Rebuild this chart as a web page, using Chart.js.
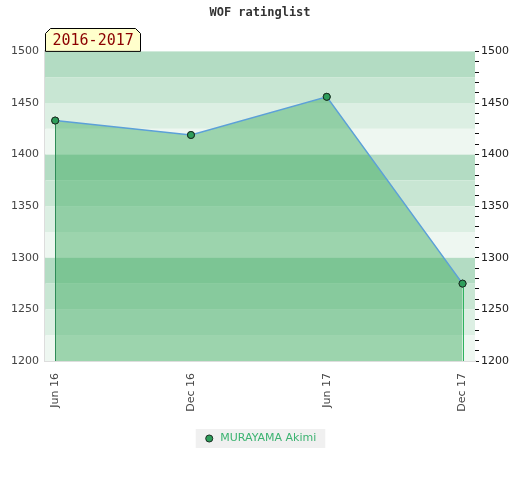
<!DOCTYPE html>
<html>
<head>
<meta charset="utf-8">
<script src="https://cdn.jsdelivr.net/npm/chart.js@4/dist/chart.umd.min.js"></script>
<style>
  body { margin: 0; background: #fff; }
  #wrap { width: 520px; height: 480px; }
</style>
</head>
<body>
<div id="wrap"><canvas id="chart"></canvas></div>
<script>
// months since Jun 2016
const months = [0, 6, 12, 18];
const tickLabels = ['Jun 16', 'Dec 16', 'Jun 17', 'Dec 17'];
const ratings = [1433, 1419, 1456, 1275];
const playerName = 'MURAYAMA Akimi';
const periodLabel = '2016-2017';

const bandColors = ['#b3dcc3', '#c8e6d3', '#dcefe3', '#eef7f1'];

const bandsPlugin = {
    id: 'bands',
    beforeDatasetsDraw(chart) {
        const { ctx, chartArea } = chart;
        const y = chart.scales.y;
        ctx.save();
        let k = 0;
        for (let v = y.max; v > y.min; v -= 25) {
            const top = y.getPixelForValue(v);
            const bottom = y.getPixelForValue(v - 25);
            ctx.fillStyle = bandColors[k % 4];
            ctx.fillRect(chartArea.left, top, chartArea.right - chartArea.left, bottom - top);
            k++;
        }
        ctx.restore();
    },
    afterDatasetsDraw(chart) {
        // vertical edges of the filled area
        const { ctx, chartArea } = chart;
        const pts = chart.getDatasetMeta(0).data;
        const edges = [[pts[0], '#2e8b57'], [pts[pts.length - 1], '#2fb35f']];
        ctx.save();
        ctx.lineWidth = 1;
        edges.forEach(([p, color]) => {
            const x = Math.round(p.x) + 0.5;
            ctx.strokeStyle = color;
            ctx.beginPath();
            ctx.moveTo(x, p.y);
            ctx.lineTo(x, chartArea.bottom);
            ctx.stroke();
        });
        // redraw points on top of the edges
        pts.forEach((p) => p.draw(ctx, chartArea));
        ctx.restore();
    },
};

const periodPlugin = {
    id: 'period',
    afterDraw(chart) {
        const { ctx, chartArea } = chart;
        const left = chartArea.left + 0.5;
        const right = left + 95;
        const top = 28.5;
        const bottom = chartArea.top;
        const c = 5;
        ctx.save();
        ctx.beginPath();
        ctx.moveTo(left, bottom);
        ctx.lineTo(left, top + c);
        ctx.lineTo(left + c, top);
        ctx.lineTo(right - c, top);
        ctx.lineTo(right, top + c);
        ctx.lineTo(right, bottom);
        ctx.closePath();
        ctx.fillStyle = '#ffffcc';
        ctx.fill();
        ctx.strokeStyle = '#000';
        ctx.lineWidth = 1;
        ctx.stroke();
        ctx.fillStyle = '#8b0000';
        ctx.font = '15px "DejaVu Sans Mono"';
        ctx.textBaseline = 'middle';
        ctx.fillText(periodLabel, left + 7, (top + bottom) / 2 + 1);
        ctx.restore();
    },
};

const legendBoxPlugin = {
    id: 'legendBox',
    beforeDraw(chart) {
        const box = chart.legend.legendHitBoxes[0];
        if (!box) return;
        const { ctx } = chart;
        const cy = box.top + box.height / 2;
        ctx.save();
        ctx.fillStyle = '#f0f0f0';
        ctx.fillRect(box.left - 8, cy - 9.5, box.width + 17, 19);
        ctx.restore();
    },
};

new Chart(document.getElementById('chart'), {
    type: 'line',
    data: {
        datasets: [
            {
                label: playerName,
                data: months.map((m, i) => ({ x: m, y: ratings[i] })),
                borderColor: '#5ca0d8',
                borderWidth: 1.5,
                backgroundColor: 'rgba(58, 169, 93, 0.46)',
                fill: 'start',
                tension: 0,
                pointRadius: 3.5,
                pointBackgroundColor: '#2e9e5b',
                pointBorderColor: '#1a2e22',
                pointBorderWidth: 1,
            },
        ],
    },
    options: {
        responsive: true,
        maintainAspectRatio: false,
        animation: false,
        layout: { padding: { left: 0, right: 0, top: 0, bottom: 26 } },
        scales: {
            x: {
                type: 'linear',
                min: -0.45,
                max: 18.55,
                afterBuildTicks(scale) {
                    scale.ticks = months.map((m) => ({ value: m }));
                },
                ticks: {
                    autoSkip: false,
                    minRotation: 90,
                    maxRotation: 90,
                    color: '#444',
                    font: { family: 'DejaVu Sans', size: 11 },
                    padding: 4,
                    callback: (v) => tickLabels[months.indexOf(v)],
                },
                grid: { display: false },
                border: { color: '#dddddd', width: 2 },
                afterFit(scale) { scale.height = 62; },
            },
            y: {
                position: 'left',
                min: 1200,
                max: 1500,
                ticks: {
                    stepSize: 50,
                    color: '#444',
                    font: { family: 'DejaVu Sans', size: 11 },
                    padding: 6,
                    callback: (v) => String(v),
                },
                grid: { display: false, drawTicks: false },
                border: { color: '#dddddd', width: 2 },
                afterFit(scale) { scale.width = 45; },
            },
            y2: {
                position: 'right',
                min: 1200,
                max: 1500,
                ticks: {
                    stepSize: 10,
                    autoSkip: false,
                    color: '#222',
                    font: { family: 'DejaVu Sans', size: 11 },
                    padding: 2,
                    callback: (v) => (v % 50 === 0 ? String(v) : ''),
                },
                grid: { drawOnChartArea: false, tickLength: 4, tickColor: '#111', tickWidth: 1 },
                border: { display: false },
                afterFit(scale) { scale.width = 45; },
            },
        },
        plugins: {
            title: {
                display: true,
                text: 'WOF ratinglist',
                color: '#333',
                font: { family: 'DejaVu Sans Mono', size: 12, weight: 'bold' },
                padding: { top: 6, bottom: 31 },
            },
            legend: {
                position: 'bottom',
                labels: {
                    usePointStyle: true,
                    pointStyle: 'circle',
                    boxWidth: 11,
                    boxHeight: 5,
                    color: '#3cb371',
                    font: { family: 'DejaVu Sans', size: 11 },
                    padding: 10,
                },
            },
            tooltip: { enabled: false },
        },
    },
    plugins: [bandsPlugin, periodPlugin, legendBoxPlugin],
});
</script>
</body>
</html>
